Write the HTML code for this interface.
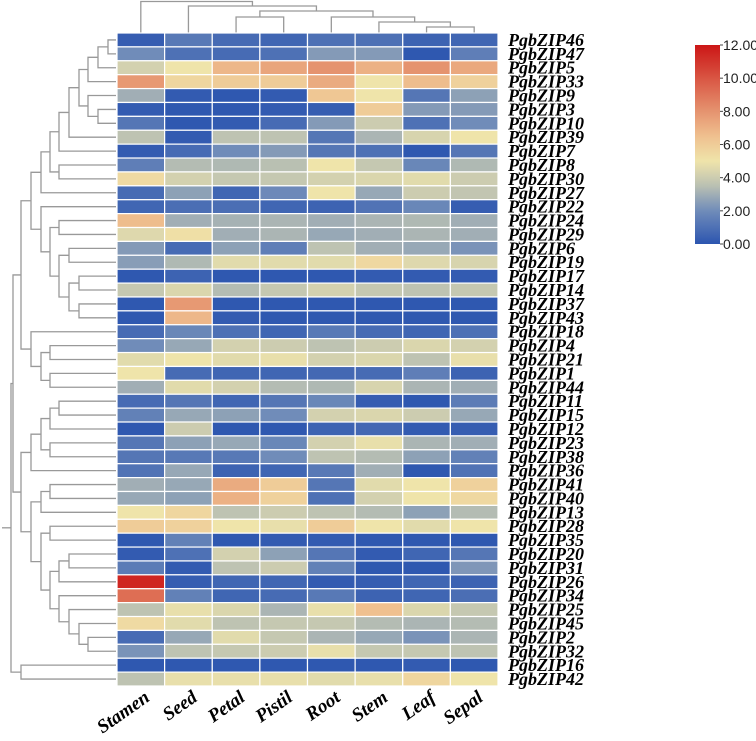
<!DOCTYPE html>
<html><head><meta charset="utf-8"><style>
body{margin:0;background:#fff;}
svg{display:block;}
.rl{font-family:"Liberation Serif",serif;font-weight:bold;font-style:italic;font-size:18px;fill:#000;}
.cl{font-family:"Liberation Serif",serif;font-weight:bold;font-style:italic;font-size:19px;fill:#000;}
.lg{font-family:"Liberation Sans",sans-serif;font-size:14px;fill:#222;}
</style></head><body>
<svg id="chart" width="756" height="741" viewBox="0 0 756 741">
<defs><linearGradient id="cbar" x1="0" y1="1" x2="0" y2="0"></linearGradient></defs>
<g id="dendro"></g>
<g id="cdendro"></g>
<g id="cells"></g>
<g id="rlabels"></g>
<g id="clabels"></g>
<g id="legend"></g>
</svg>
<script>
const columns=["Stamen","Seed","Petal","Pistil","Root","Stem","Leaf","Sepal"];
const genes=["PgbZIP46","PgbZIP47","PgbZIP5","PgbZIP33","PgbZIP9","PgbZIP3","PgbZIP10","PgbZIP39","PgbZIP7","PgbZIP8","PgbZIP30","PgbZIP27","PgbZIP22","PgbZIP24","PgbZIP29","PgbZIP6","PgbZIP19","PgbZIP17","PgbZIP14","PgbZIP37","PgbZIP43","PgbZIP18","PgbZIP4","PgbZIP21","PgbZIP1","PgbZIP44","PgbZIP11","PgbZIP15","PgbZIP12","PgbZIP23","PgbZIP38","PgbZIP36","PgbZIP41","PgbZIP40","PgbZIP13","PgbZIP28","PgbZIP35","PgbZIP20","PgbZIP31","PgbZIP26","PgbZIP34","PgbZIP25","PgbZIP45","PgbZIP2","PgbZIP32","PgbZIP16","PgbZIP42"];
const values=[
[0.3,1.3,0.8,0.6,1.0,1.0,0.5,0.6],
[2.0,1.0,0.8,1.0,2.4,2.4,0.1,1.5],
[4.2,5.0,6.8,7.4,8.0,7.0,8.0,7.3],
[7.8,5.6,6.0,6.0,7.2,5.0,6.6,5.8],
[3.0,0.2,0.1,0.2,6.2,5.0,1.2,2.6],
[0.2,0.1,0.1,0.2,0.3,6.0,2.4,2.4],
[1.2,0.1,0.2,0.8,2.4,4.0,1.0,2.0],
[3.6,0.2,3.6,3.6,1.2,3.2,4.3,5.0],
[0.2,0.8,2.0,2.4,1.2,1.0,0.1,1.2],
[1.5,3.4,3.3,3.5,5.0,3.8,1.8,3.3],
[5.4,4.2,3.8,3.8,4.2,4.4,4.6,4.0],
[0.8,2.6,0.6,1.9,5.0,2.8,4.0,3.7],
[0.6,0.9,0.9,0.6,0.5,1.1,1.8,0.3],
[6.6,3.0,3.1,3.2,3.0,3.2,3.3,3.0],
[4.5,5.2,3.0,3.2,2.8,3.0,3.2,3.0],
[2.4,0.8,2.6,1.5,3.6,3.0,2.8,2.2],
[2.5,3.3,4.6,4.6,4.6,5.5,4.5,4.3],
[0.1,0.5,0.1,0.1,0.1,0.2,0.2,0.2],
[3.8,4.4,3.4,3.8,4.2,3.8,3.6,3.8],
[0.1,7.8,0.1,0.1,0.1,0.1,0.1,0.1],
[0.1,6.8,0.2,0.1,0.1,0.1,0.1,0.1],
[0.8,1.8,1.0,0.6,1.3,0.8,0.6,1.0],
[2.0,2.8,4.2,4.0,3.6,4.0,4.4,4.2],
[4.6,5.0,4.6,4.8,4.2,4.4,3.6,4.8],
[5.0,0.8,0.6,0.6,0.7,0.8,1.5,0.5],
[3.0,4.6,4.2,3.4,3.3,4.3,3.2,3.0],
[0.8,1.2,0.6,1.2,1.8,0.3,0.1,1.4],
[1.6,2.8,2.6,2.0,4.2,4.4,4.0,2.8],
[0.1,4.0,0.1,0.1,0.5,0.7,0.2,0.3],
[1.2,2.6,2.8,1.8,4.2,4.8,3.2,3.0],
[1.2,1.3,1.3,2.0,3.6,3.4,2.6,1.6],
[1.1,2.8,0.5,0.6,1.3,3.0,0.1,1.1],
[3.0,2.8,7.2,6.0,1.2,4.6,5.0,5.8],
[2.8,2.6,7.0,5.8,1.0,4.2,5.0,5.5],
[5.0,5.6,3.6,4.0,3.6,3.4,2.6,3.4],
[6.0,5.8,5.0,4.8,6.0,5.0,4.6,5.0],
[0.1,1.6,0.1,0.2,0.2,0.1,0.1,0.1],
[0.2,1.0,4.2,2.6,1.2,0.2,0.6,1.2],
[1.4,0.2,3.6,4.0,1.6,0.1,0.1,2.3],
[11.5,0.3,0.6,0.6,0.2,0.3,0.6,0.5],
[9.2,1.6,0.6,0.8,1.3,0.5,0.6,0.9],
[3.6,4.8,4.4,3.2,4.8,6.5,4.4,3.8],
[5.4,4.6,3.6,3.8,3.8,3.4,3.2,3.4],
[0.8,2.8,4.6,3.8,3.2,2.8,2.2,3.2],
[2.2,3.6,3.8,4.0,4.8,3.8,3.8,3.6],
[0.1,0.1,0.1,0.1,0.1,0.1,0.2,0.1],
[3.6,4.8,4.8,4.8,4.6,4.8,5.6,5.0]];
const legendTicks=[0,2,4,6,8,10,12];
const legendLabels=["0.00","2.00","4.00","6.00","8.00","10.00","12.00"];

const NS="http://www.w3.org/2000/svg";
function mk(tag,attrs,parent){const e=document.createElementNS(NS,tag);for(const k in attrs)e.setAttribute(k,attrs[k]);parent.appendChild(e);return e;}
const X0=117,X1=498,Y0=33,Y1=686;
const cw=(X1-X0)/columns.length, rh=(Y1-Y0)/genes.length;
const xPos=i=>X0+i*cw, yPos=i=>Y0+i*rh;
const vmin=0,vmax=12;
const stops=[[0,[44,85,176]],[2,[112,140,185]],[3.6,[190,195,178]],[5,[239,228,170]],[6.5,[239,192,143]],[8.5,[226,132,100]],[12,[204,22,22]]];
function color(v){v=Math.max(vmin,Math.min(vmax,v));for(let i=1;i<stops.length;i++){if(v<=stops[i][0]){const a=stops[i-1],b=stops[i];const t=(v-a[0])/(b[0]-a[0]);const c=a[1].map((x,j)=>Math.round(x+(b[1][j]-x)*t));return `rgb(${c})`;}}return 'rgb(204,22,22)';}

const cells=document.getElementById('cells');
values.forEach((row,r)=>row.forEach((v,c)=>{
  const el=mk('rect',{x:xPos(c),y:yPos(r),width:cw,height:rh,fill:color(v),stroke:'#fff','stroke-width':1.2},cells);
  
  
}));
const rl=document.getElementById('rlabels');
genes.forEach((g,r)=>{
  const t=mk('text',{x:508,y:yPos(r)+rh/2+6,class:'rl'},rl);t.textContent=g;
  
  
});
const cl=document.getElementById('clabels');
columns.forEach((c,i)=>{
  const cx=xPos(i)+cw/2+10, cy=700;
  const t=mk('text',{x:cx,y:cy,class:'cl','text-anchor':'end',transform:`rotate(-35 ${cx} ${cy})`},cl);t.textContent=c;
  
  
});

const N=(l,r,h)=>({l,r,h});
const A=N(N(N(N(0,1,108),2,98),3,88),N(4,N(5,6,98),88),79);
const upper=N(N(N(N(N(A,7,69),8,59),N(9,10,59),50),11,41),N(12,N(N(13,14,59),N(N(15,16,69),N(N(17,18,79),N(19,20,79),69),59),50),41),31);
const top25=N(upper,N(21,N(N(22,23,50),N(24,25,50),41),31),21);
const mid=N(N(N(N(N(26,27,59),28,50),N(29,30,50),41),31,31),N(N(N(32,33,50),34,41),N(N(35,36,50),N(N(N(37,38,69),39,59),N(40,N(41,N(42,N(43,44,88),79),69),59),50),41),31),21);
const rowTree=N(N(top25,mid,13),N(45,46,21),11);
const dg=document.getElementById('dendro');
const LEAFX=116;
function drawRow(n){
  if(typeof n==='number')return {x:LEAFX,y:yPos(n)+rh/2};
  const a=drawRow(n.l),b=drawRow(n.r);
  const p=mk('path',{d:`M${a.x},${a.y}H${n.h}V${b.y}H${b.x}`,fill:'none',stroke:'#999','stroke-width':1.3},dg);
  
  
  return {x:n.h,y:(a.y+b.y)/2};
}
const rr=drawRow(rowTree);
mk('path',{d:`M2,${rr.y}H${rr.x}`,stroke:'#999','stroke-width':1.3},dg);

const colTree=N(0,N(1,N(N(2,3,17),N(4,N(5,N(6,7,27),22),17),11),6),1.5);
const cg=document.getElementById('cdendro');
function drawCol(n){
  if(typeof n==='number')return {x:xPos(n)+cw/2,y:Y0};
  const a=drawCol(n.l),b=drawCol(n.r);
  const p=mk('path',{d:`M${a.x},${a.y}V${n.h}H${b.x}V${b.y}`,fill:'none',stroke:'#999','stroke-width':1.3},cg);
  
  
  return {x:(a.x+b.x)/2,y:n.h};
}
drawCol(colTree);

const grad=document.getElementById('cbar');
for(let v=0;v<=12;v+=0.5){mk('stop',{offset:(v/12),'stop-color':color(v)},grad);}
const lg=document.getElementById('legend');
const LX=695,LW=25,LY0=45,LY1=244;
const ly=v=>LY1-(v-vmin)/(vmax-vmin)*(LY1-LY0);
const bar=mk('rect',{x:LX,y:LY0,width:LW,height:LY1-LY0,fill:'url(#cbar)'},lg);


legendTicks.forEach((v,i)=>{
  mk('line',{x1:LX+LW,x2:LX+LW+3,y1:ly(v),y2:ly(v),stroke:'#444'},lg);
  const t=mk('text',{x:LX+LW+3,y:ly(v)+5,class:'lg'},lg);t.textContent=legendLabels[i];
  
  
});
</script>
</body></html>
